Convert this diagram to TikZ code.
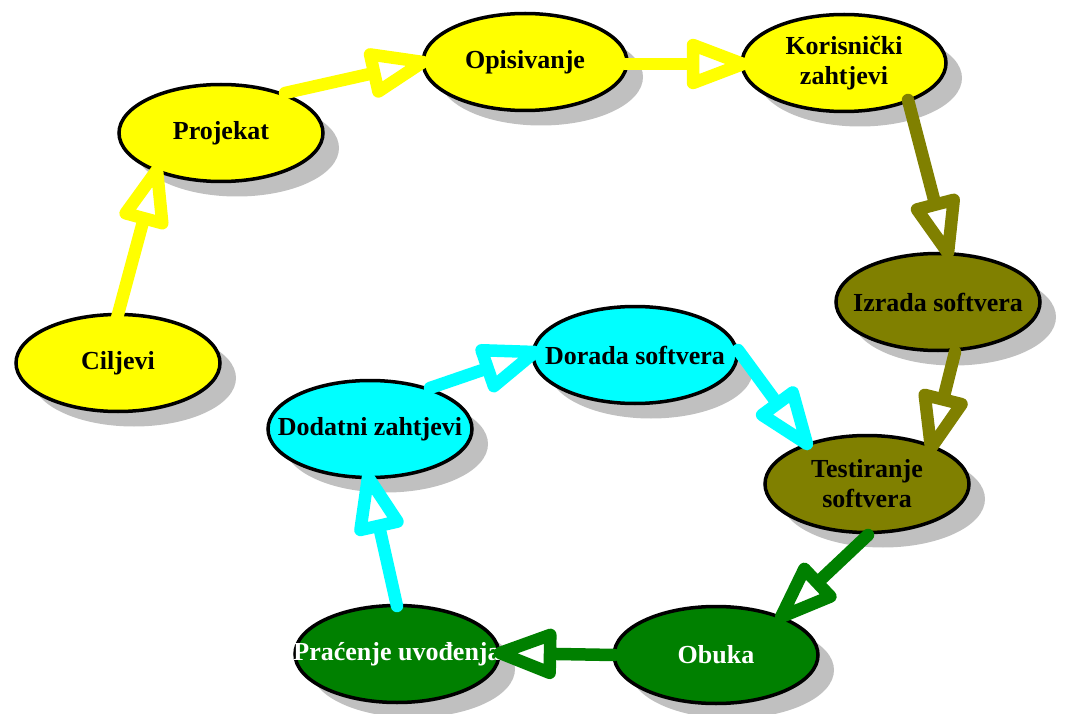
\documentclass[tikz,border=0pt]{standalone}
\usepackage{fontspec}
\setmainfont{Liberation Serif}
\usetikzlibrary{calc,shapes.geometric,shadows}
\definecolor{cyel}{HTML}{FFFF00}
\definecolor{colive}{HTML}{808000}
\definecolor{ccyan}{HTML}{00FFFF}
\definecolor{cgreen}{HTML}{008000}
\definecolor{shadowgray}{HTML}{C0C0C0}
\tikzset{
  ell/.style={ellipse, draw=black, line width=3.5pt, minimum width=204pt, minimum height=97pt, inner sep=0pt,
    general shadow={shadow xshift=16pt, shadow yshift=-15pt, fill=shadowgray}},
  txt/.style={font=\fontsize{26}{30}\selectfont\bfseries, align=center, inner sep=0pt},
  connline/.style={line width=12.5pt, line join=round, line cap=round},
}
\newcommand{\conn}[3]{%
  \path #2 coordinate (cs) #3 coordinate (ct);
  \coordinate (cb) at ($(ct)!50pt!(cs)$);
  \draw[connline, draw=#1] (cs) -- (cb);
  \filldraw[connline, draw=#1, fill=white] (ct) -- ($(cb)!19pt!90:(ct)$) -- ($(cb)!19pt!-90:(ct)$) -- cycle;
}
\begin{document}
\begin{tikzpicture}[x=1pt,y=-1pt]
\useasboundingbox (0,0) rectangle (1066,714);
% ellipses
\node[ell, fill=cyel] (cil) at (118,363) {};
\node[ell, fill=cyel] (proj) at (221,133) {};
\node[ell, fill=cyel] (opis) at (525,62) {};
\node[ell, fill=cyel] (kor) at (844,63) {};
\node[ell, fill=colive] (izr) at (938,302) {};
\node[ell, fill=ccyan] (dor) at (635,355) {};
\node[ell, fill=ccyan] (dod) at (370,429) {};
\node[ell, fill=colive] (test) at (867,484) {};
\node[ell, fill=cgreen] (obu) at (716,655) {};
\node[ell, fill=cgreen] (prac) at (397,654) {};
% texts
\node[txt] (tcil) at (cil) {Ciljevi};
\node[txt] (tproj) at (proj) {Projekat};
\node[txt] (topis) at (opis) {Opisivanje};
\node[txt] (tkor) at (kor) {Korisnički\\zahtjevi};
\node[txt] (tizr) at (izr) {Izrada softvera};
\node[txt] (tdor) at (dor) {Dorada softvera};
\node[txt] (tdod) at (dod) {Dodatni zahtjevi};
\node[txt] (ttest) at (test) {Testiranje\\softvera};
\node[txt, text=white] (tobu) at (obu) {Obuka};
\node[txt, text=white] (tprac) at (prac) {Praćenje uvođenja};
% connectors
\conn{cyel}{($(cil)+(-1,-45)$)}{($(proj)+(-64,37)$)}
\conn{cyel}{($(proj)+(64,-40)$)}{($(opis)+(-102,0)$)}
\conn{cyel}{($(opis)+(100,2)$)}{($(kor)+(-101,1)$)}
\conn{colive}{($(kor)+(64,37)$)}{($(izr)+(10,-49)$)}
\conn{colive}{($(izr)+(17,50)$)}{($(test)+(64,-36)$)}
\conn{cgreen}{($(test)+(1,51)$)}{($(obu)+(65,-38)$)}
\conn{cgreen}{($(obu)+(-102,0)$)}{($(prac)+(103,-1)$)}
\conn{ccyan}{($(prac)+(0,-48)$)}{($(dod)+(-2,48)$)}
\conn{ccyan}{($(dod)+(60,-41)$)}{($(dor)+(-100,-3)$)}
\conn{ccyan}{($(dor)+(103,-5)$)}{($(test)+(-60,-40)$)}
\end{tikzpicture}
\end{document}
